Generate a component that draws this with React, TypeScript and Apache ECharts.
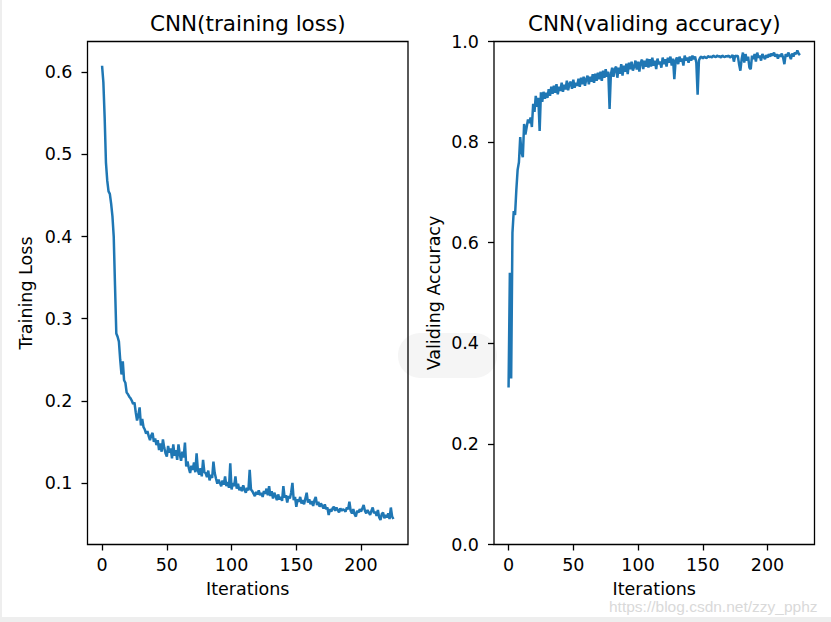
import React, { useEffect, useRef } from "react";
import * as echarts from "echarts";

const trainingLoss = [
  0.608, 0.588, 0.545, 0.49, 0.468, 0.455, 0.452, 0.44, 0.425, 0.4,
  0.34, 0.282, 0.278, 0.272, 0.25, 0.232, 0.248, 0.225, 0.222, 0.21,
  0.208, 0.205, 0.203, 0.2, 0.196, 0.198, 0.186, 0.176, 0.182, 0.192,
  0.17, 0.178, 0.168, 0.165, 0.16, 0.163, 0.157, 0.152, 0.158, 0.161,
  0.15, 0.154, 0.146, 0.152, 0.14, 0.148, 0.138, 0.153, 0.143, 0.136,
  0.132, 0.145, 0.137, 0.142, 0.13, 0.147, 0.133, 0.14, 0.128, 0.147,
  0.135, 0.127, 0.138, 0.131, 0.149, 0.12, 0.126, 0.118, 0.112, 0.121,
  0.116, 0.125, 0.113, 0.136, 0.115, 0.11, 0.118, 0.108, 0.128, 0.113,
  0.112, 0.107, 0.115, 0.103, 0.11, 0.106, 0.126, 0.112, 0.105, 0.099,
  0.104, 0.1, 0.096, 0.103, 0.098, 0.108, 0.096, 0.101, 0.094, 0.124,
  0.092, 0.1, 0.096, 0.108, 0.093, 0.099, 0.091, 0.095, 0.09, 0.097,
  0.092, 0.088, 0.094, 0.091, 0.116, 0.092, 0.09, 0.087, 0.084, 0.089,
  0.086, 0.091, 0.085, 0.088, 0.083, 0.09, 0.087, 0.093, 0.085, 0.096,
  0.084, 0.09, 0.081, 0.088, 0.084, 0.079, 0.086, 0.08, 0.083, 0.078,
  0.096, 0.082, 0.085, 0.076, 0.084, 0.081, 0.088, 0.1, 0.079, 0.083,
  0.071, 0.08, 0.077, 0.083, 0.075, 0.079, 0.074, 0.081, 0.088, 0.076,
  0.08, 0.074, 0.078, 0.072, 0.079, 0.083, 0.073, 0.077, 0.071, 0.075,
  0.072, 0.069, 0.074, 0.068, 0.07, 0.061, 0.068, 0.065, 0.069, 0.071,
  0.066, 0.07, 0.067, 0.064, 0.069, 0.066, 0.068, 0.067, 0.065, 0.07,
  0.068, 0.077, 0.066, 0.063, 0.068, 0.062, 0.059, 0.066, 0.064, 0.068,
  0.065, 0.069, 0.073, 0.066, 0.063, 0.067, 0.064, 0.061, 0.066, 0.07,
  0.063, 0.065, 0.06, 0.067, 0.058, 0.055, 0.062, 0.064, 0.057, 0.061,
  0.058, 0.063, 0.056, 0.07, 0.059, 0.056,
];

const validAccuracy = [
  0.312, 0.54, 0.33, 0.62, 0.663, 0.655, 0.705, 0.745, 0.76, 0.81,
  0.78, 0.77, 0.836, 0.815, 0.83, 0.845, 0.838, 0.849, 0.83, 0.876,
  0.86, 0.892, 0.87, 0.888, 0.822, 0.899, 0.88, 0.9, 0.886, 0.898,
  0.888, 0.905, 0.892, 0.91, 0.896, 0.912, 0.898, 0.915, 0.895, 0.91,
  0.902, 0.918, 0.9, 0.914, 0.905, 0.922, 0.903, 0.916, 0.92, 0.906,
  0.924, 0.908, 0.918, 0.912, 0.926, 0.91, 0.928, 0.915, 0.93, 0.912,
  0.925, 0.932, 0.915, 0.93, 0.92, 0.935, 0.918, 0.936, 0.922, 0.938,
  0.925, 0.94, 0.922, 0.942, 0.928, 0.945, 0.93, 0.94, 0.866, 0.935,
  0.948, 0.93, 0.945, 0.95, 0.928, 0.948, 0.936, 0.955, 0.932, 0.952,
  0.94, 0.956, 0.935, 0.958, 0.945, 0.96, 0.942, 0.95, 0.962, 0.944,
  0.96, 0.94, 0.958, 0.964, 0.945, 0.962, 0.95, 0.966, 0.948, 0.965,
  0.95, 0.968, 0.952, 0.962, 0.945, 0.966, 0.955, 0.96, 0.948, 0.968,
  0.955, 0.965, 0.95, 0.968, 0.958, 0.97, 0.952, 0.966, 0.925, 0.962,
  0.968, 0.955, 0.97, 0.96, 0.966, 0.952, 0.972, 0.962, 0.968, 0.958,
  0.97, 0.962, 0.972, 0.965, 0.97, 0.958, 0.894, 0.962, 0.968, 0.97,
  0.966, 0.97, 0.968, 0.967, 0.971, 0.969, 0.97, 0.968, 0.972, 0.97,
  0.969, 0.972, 0.97, 0.971, 0.968, 0.972, 0.97, 0.969, 0.971, 0.97,
  0.972, 0.968, 0.97, 0.973, 0.96, 0.972, 0.97, 0.972, 0.955, 0.942,
  0.965, 0.978, 0.958, 0.975, 0.962, 0.97, 0.948, 0.945, 0.972, 0.965,
  0.975, 0.96, 0.978, 0.968, 0.972, 0.962, 0.975, 0.97, 0.965, 0.973,
  0.968, 0.975, 0.97, 0.976, 0.972, 0.978, 0.97, 0.975, 0.966, 0.974,
  0.97, 0.976, 0.968, 0.955, 0.975, 0.97, 0.978, 0.972, 0.965, 0.976,
  0.97, 0.978, 0.975, 0.982, 0.976, 0.973,
];

const xTicks = [0, 50, 100, 150, 200];
const lossTicks = [0.1, 0.2, 0.3, 0.4, 0.5, 0.6];
const accTicks = [0, 0.2, 0.4, 0.6, 0.8, 1.0];
const titles = ["CNN(training loss)", "CNN(validing accuracy)"];
const yNames = ["Training Loss", "Validing Accuracy"];
const xName = "Iterations";
const watermark = "https://blog.csdn.net/zzy_pphz";

export default function App() {
  const ref = useRef<HTMLDivElement>(null);

  useEffect(() => {
    const chart = echarts.init(ref.current!, null, { renderer: "svg" });
    const font = "DejaVu Sans";
    const fs = 17.5;
    const black = "#000";
    const lefts = [87.5, 494];
    const gw = 320.5;
    const gtop = 41.5;
    const gh = 503;

    const xAxis = [0, 1].map((g) => ({
      type: "value",
      gridIndex: g,
      min: -11.25,
      max: 236.25,
      name: xName,
      nameLocation: "middle",
      nameGap: 35,
      nameTextStyle: { fontFamily: font, fontSize: fs, color: black },
      axisLine: { show: false, onZero: false },
      splitLine: { show: false },
      axisTick: {
        show: true,
        inside: false,
        length: 6,
        customValues: xTicks,
        lineStyle: { color: black, width: 1.3 },
      },
      axisLabel: {
        customValues: xTicks,
        margin: 11,
        fontFamily: font,
        fontSize: fs,
        color: black,
        formatter: (v: number) => String(v),
      },
    }));

    const yCommon = (ticks: number[]) => ({
      type: "value",
      nameLocation: "middle",
      nameTextStyle: { fontFamily: font, fontSize: fs, color: black },
      axisLine: { show: false, onZero: false },
      splitLine: { show: false },
      axisTick: {
        show: true,
        inside: false,
        length: 6,
        customValues: ticks,
        lineStyle: { color: black, width: 1.3 },
      },
      axisLabel: {
        customValues: ticks,
        margin: 15,
        fontFamily: font,
        fontSize: fs,
        color: black,
        formatter: (v: number) => v.toFixed(1),
      },
    });

    const yAxis = [
      { ...yCommon(lossTicks), gridIndex: 0, min: 0.025, max: 0.6375, name: yNames[0], nameGap: 53 },
      { ...yCommon(accTicks), gridIndex: 1, min: 0, max: 1, interval: 0.2, name: yNames[1], nameGap: 51 },
    ];

    chart.setOption({
      animation: false,
      backgroundColor: "#ffffff",
      grid: lefts.map((l) => ({
        left: l,
        top: gtop,
        width: gw,
        height: gh,
        show: true,
        borderColor: black,
        borderWidth: 1.3,
        backgroundColor: "transparent",
        containLabel: false,
        outerBoundsMode: "none",
      })),
      xAxis,
      yAxis,
      series: [
        {
          type: "line",
          xAxisIndex: 0,
          yAxisIndex: 0,
          data: trainingLoss.map((v, i) => [i, v]),
          showSymbol: false,
          symbol: "none",
          lineStyle: { color: "#1f77b4", width: 2.5 },
          itemStyle: { color: "#1f77b4" },
        },
        {
          type: "line",
          xAxisIndex: 1,
          yAxisIndex: 1,
          data: validAccuracy.map((v, i) => [i, v]),
          showSymbol: false,
          symbol: "none",
          lineStyle: { color: "#1f77b4", width: 2.5 },
          itemStyle: { color: "#1f77b4" },
        },
      ],
      graphic: [
        { type: "rect", z: -5, shape: { x: 0, y: 0, width: 2, height: 622 }, style: { fill: "#eeeeee" } },
        { type: "rect", z: -5, shape: { x: 0, y: 617, width: 831, height: 5 }, style: { fill: "#eeeeee" } },
        { type: "rect", z: -5, shape: { x: 398, y: 333, width: 99, height: 45, r: 22 }, style: { fill: "#f5f5f5" } },
        ...titles.map((t, k) => ({
          type: "text",
          x: lefts[k] + gw / 2,
          y: 23,
          style: {
            text: t,
            align: "center",
            verticalAlign: "middle",
            fontFamily: font,
            fontSize: 21.5,
            fill: black,
          },
        })),
        {
          type: "text",
          x: 609,
          y: 606,
          style: {
            text: watermark,
            align: "left",
            verticalAlign: "middle",
            fontFamily: "Liberation Sans",
            fontSize: 15.5,
            fill: "#d9d9d9",
          },
        },
      ],
    });

    return () => chart.dispose();
  }, []);

  return (
    <div
      ref={ref}
      style={{ position: "fixed", left: 0, top: 0, width: 831, height: 622 }}
    />
  );
}
